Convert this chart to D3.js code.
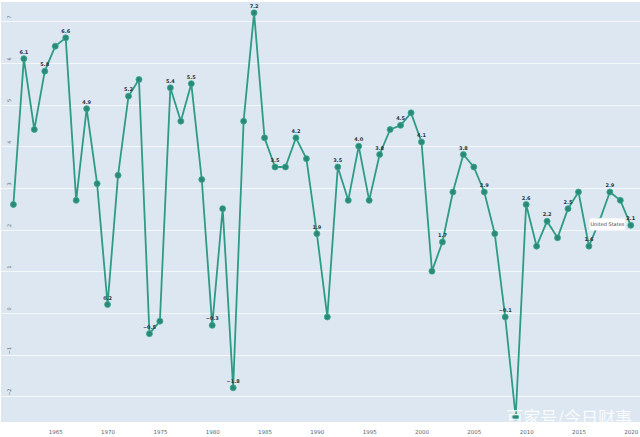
<!DOCTYPE html>
<html>
<head>
<meta charset="utf-8">
<script src="https://cdn.jsdelivr.net/npm/d3@7"></script>
<style>
html,body{margin:0;padding:0;background:#fff;}
svg{display:block;}
</style>
</head>
<body>
<svg id="chart" width="640" height="437"></svg>
<script>
// ---- data ----
const years = d3.range(1961, 2021);
const growth = [2.6, 6.1, 4.4, 5.8, 6.4, 6.6, 2.7, 4.9, 3.1, 0.2,
                3.3, 5.2, 5.6, -0.5, -0.2, 5.4, 4.6, 5.5, 3.2, -0.3,
                2.5, -1.8, 4.6, 7.2, 4.2, 3.5, 3.5, 4.2, 3.7, 1.9,
                -0.1, 3.5, 2.7, 4.0, 2.7, 3.8, 4.4, 4.5, 4.8, 4.1,
                1.0, 1.7, 2.9, 3.8, 3.5, 2.9, 1.9, -0.1, -2.5, 2.6,
                1.6, 2.2, 1.8, 2.5, 2.9, 1.6, 2.2, 2.9, 2.7, 2.1];
const labelYears = d3.range(1962, 2021, 2);
const yTicks = [-2, -1, 0, 1, 2, 3, 4, 5, 6, 7];
const xTicks = [1965, 1970, 1975, 1980, 1985, 1990, 1995, 2000, 2005, 2010, 2015, 2020];
const seriesName = "United States";
const hoverYear = 2017;
const watermark = "百家号/今日财事";

// ---- layout ----
const svg = d3.select("#chart");
const W = 640, H = 437;
const plot = {left: 1, top: 2, right: 640, bottom: 422};
const x = d3.scaleLinear().domain([1959.72, 2020.88]).range([0, 640]);
const y = d3.scaleLinear().domain([-2.62, 7.46]).range([plot.bottom, plot.top]);

svg.append("rect").attr("width", W).attr("height", H).attr("fill", "#ffffff");
svg.append("rect")
  .attr("x", plot.left).attr("y", plot.top)
  .attr("width", plot.right - plot.left).attr("height", plot.bottom - plot.top)
  .attr("fill", "#dce7f1");

// grid
svg.append("g").selectAll("line").data(yTicks).join("line")
  .attr("x1", plot.left).attr("x2", plot.right)
  .attr("y1", d => Math.round(y(d)) + 0.5).attr("y2", d => Math.round(y(d)) + 0.5)
  .attr("stroke", "#f4f8fb").attr("stroke-width", 1.2);

// y tick labels (rotated)
svg.append("g").selectAll("text").data(yTicks).join("text")
  .attr("transform", d => `translate(10,${y(d) - 4}) rotate(-90)`)
  .attr("text-anchor", "middle")
  .attr("dominant-baseline", "middle")
  .attr("font-family", "DejaVu Sans, sans-serif")
  .attr("font-size", 5)
  .attr("fill", "#5a6470")
  .text(d => d < 0 ? "−" + Math.abs(d) : d);

// x axis
const xAxis = d3.axisBottom(x).tickValues(xTicks).tickSize(0).tickFormat(d3.format("d"));
const gx = svg.append("g").attr("transform", `translate(0,${plot.bottom})`).call(xAxis);
gx.select(".domain").remove();
gx.selectAll("text")
  .attr("y", 8)
  .attr("font-family", "DejaVu Sans, sans-serif")
  .attr("font-size", 5.5)
  .attr("fill", "#5a6470");

// line
const pts = years.map((yr, i) => ({yr, v: growth[i]}));
const line = d3.line().x(d => x(d.yr)).y(d => y(d.v));
svg.append("path").datum(pts)
  .attr("d", line)
  .attr("fill", "none")
  .attr("stroke", "#2e9b86")
  .attr("stroke-width", 1.8)
  .attr("stroke-linejoin", "round");

// markers
svg.append("g").selectAll("circle").data(pts).join("circle")
  .attr("cx", d => x(d.yr)).attr("cy", d => y(d.v))
  .attr("r", 3)
  .attr("fill", "#2a8a77")
  .attr("stroke", "#3aa892")
  .attr("stroke-width", 0.8);

// data labels
const labelPts = pts.filter(d => labelYears.includes(d.yr));
svg.append("g").selectAll("text").data(labelPts).join("text")
  .attr("x", d => x(d.yr)).attr("y", d => y(d.v) - 5)
  .attr("text-anchor", "middle")
  .attr("font-family", "DejaVu Sans, sans-serif")
  .attr("font-size", 5)
  .attr("font-weight", "bold")
  .attr("fill", "#2b3440")
  .text(d => d.v < 0 ? "−" + d3.format(".1f")(Math.abs(d.v)) : d3.format(".1f")(d.v));

// hover label (covers the hovered point)
const hp = pts.find(d => d.yr === hoverYear);
const hg = svg.append("g").attr("transform", `translate(${x(hp.yr) - 10},${y(hp.v) - 3})`);
hg.append("rect").attr("x", 0).attr("y", 0).attr("width", 36).attr("height", 12)
  .attr("rx", 2).attr("fill", "#ffffff").attr("stroke", "#e8edf2").attr("stroke-width", 0.5);
hg.append("text").attr("x", 18).attr("y", 6.5)
  .attr("text-anchor", "middle").attr("dominant-baseline", "middle")
  .attr("font-family", "DejaVu Sans, sans-serif").attr("font-size", 5)
  .attr("fill", "#444").text(seriesName);

// watermark
svg.append("text")
  .attr("x", 632).attr("y", 424)
  .attr("text-anchor", "end")
  .attr("font-family", "Noto Sans CJK SC, sans-serif")
  .attr("font-size", 17)
  .attr("fill", "#ffffff").attr("fill-opacity", 0.85)
  .text(watermark);
</script>
</body>
</html>
